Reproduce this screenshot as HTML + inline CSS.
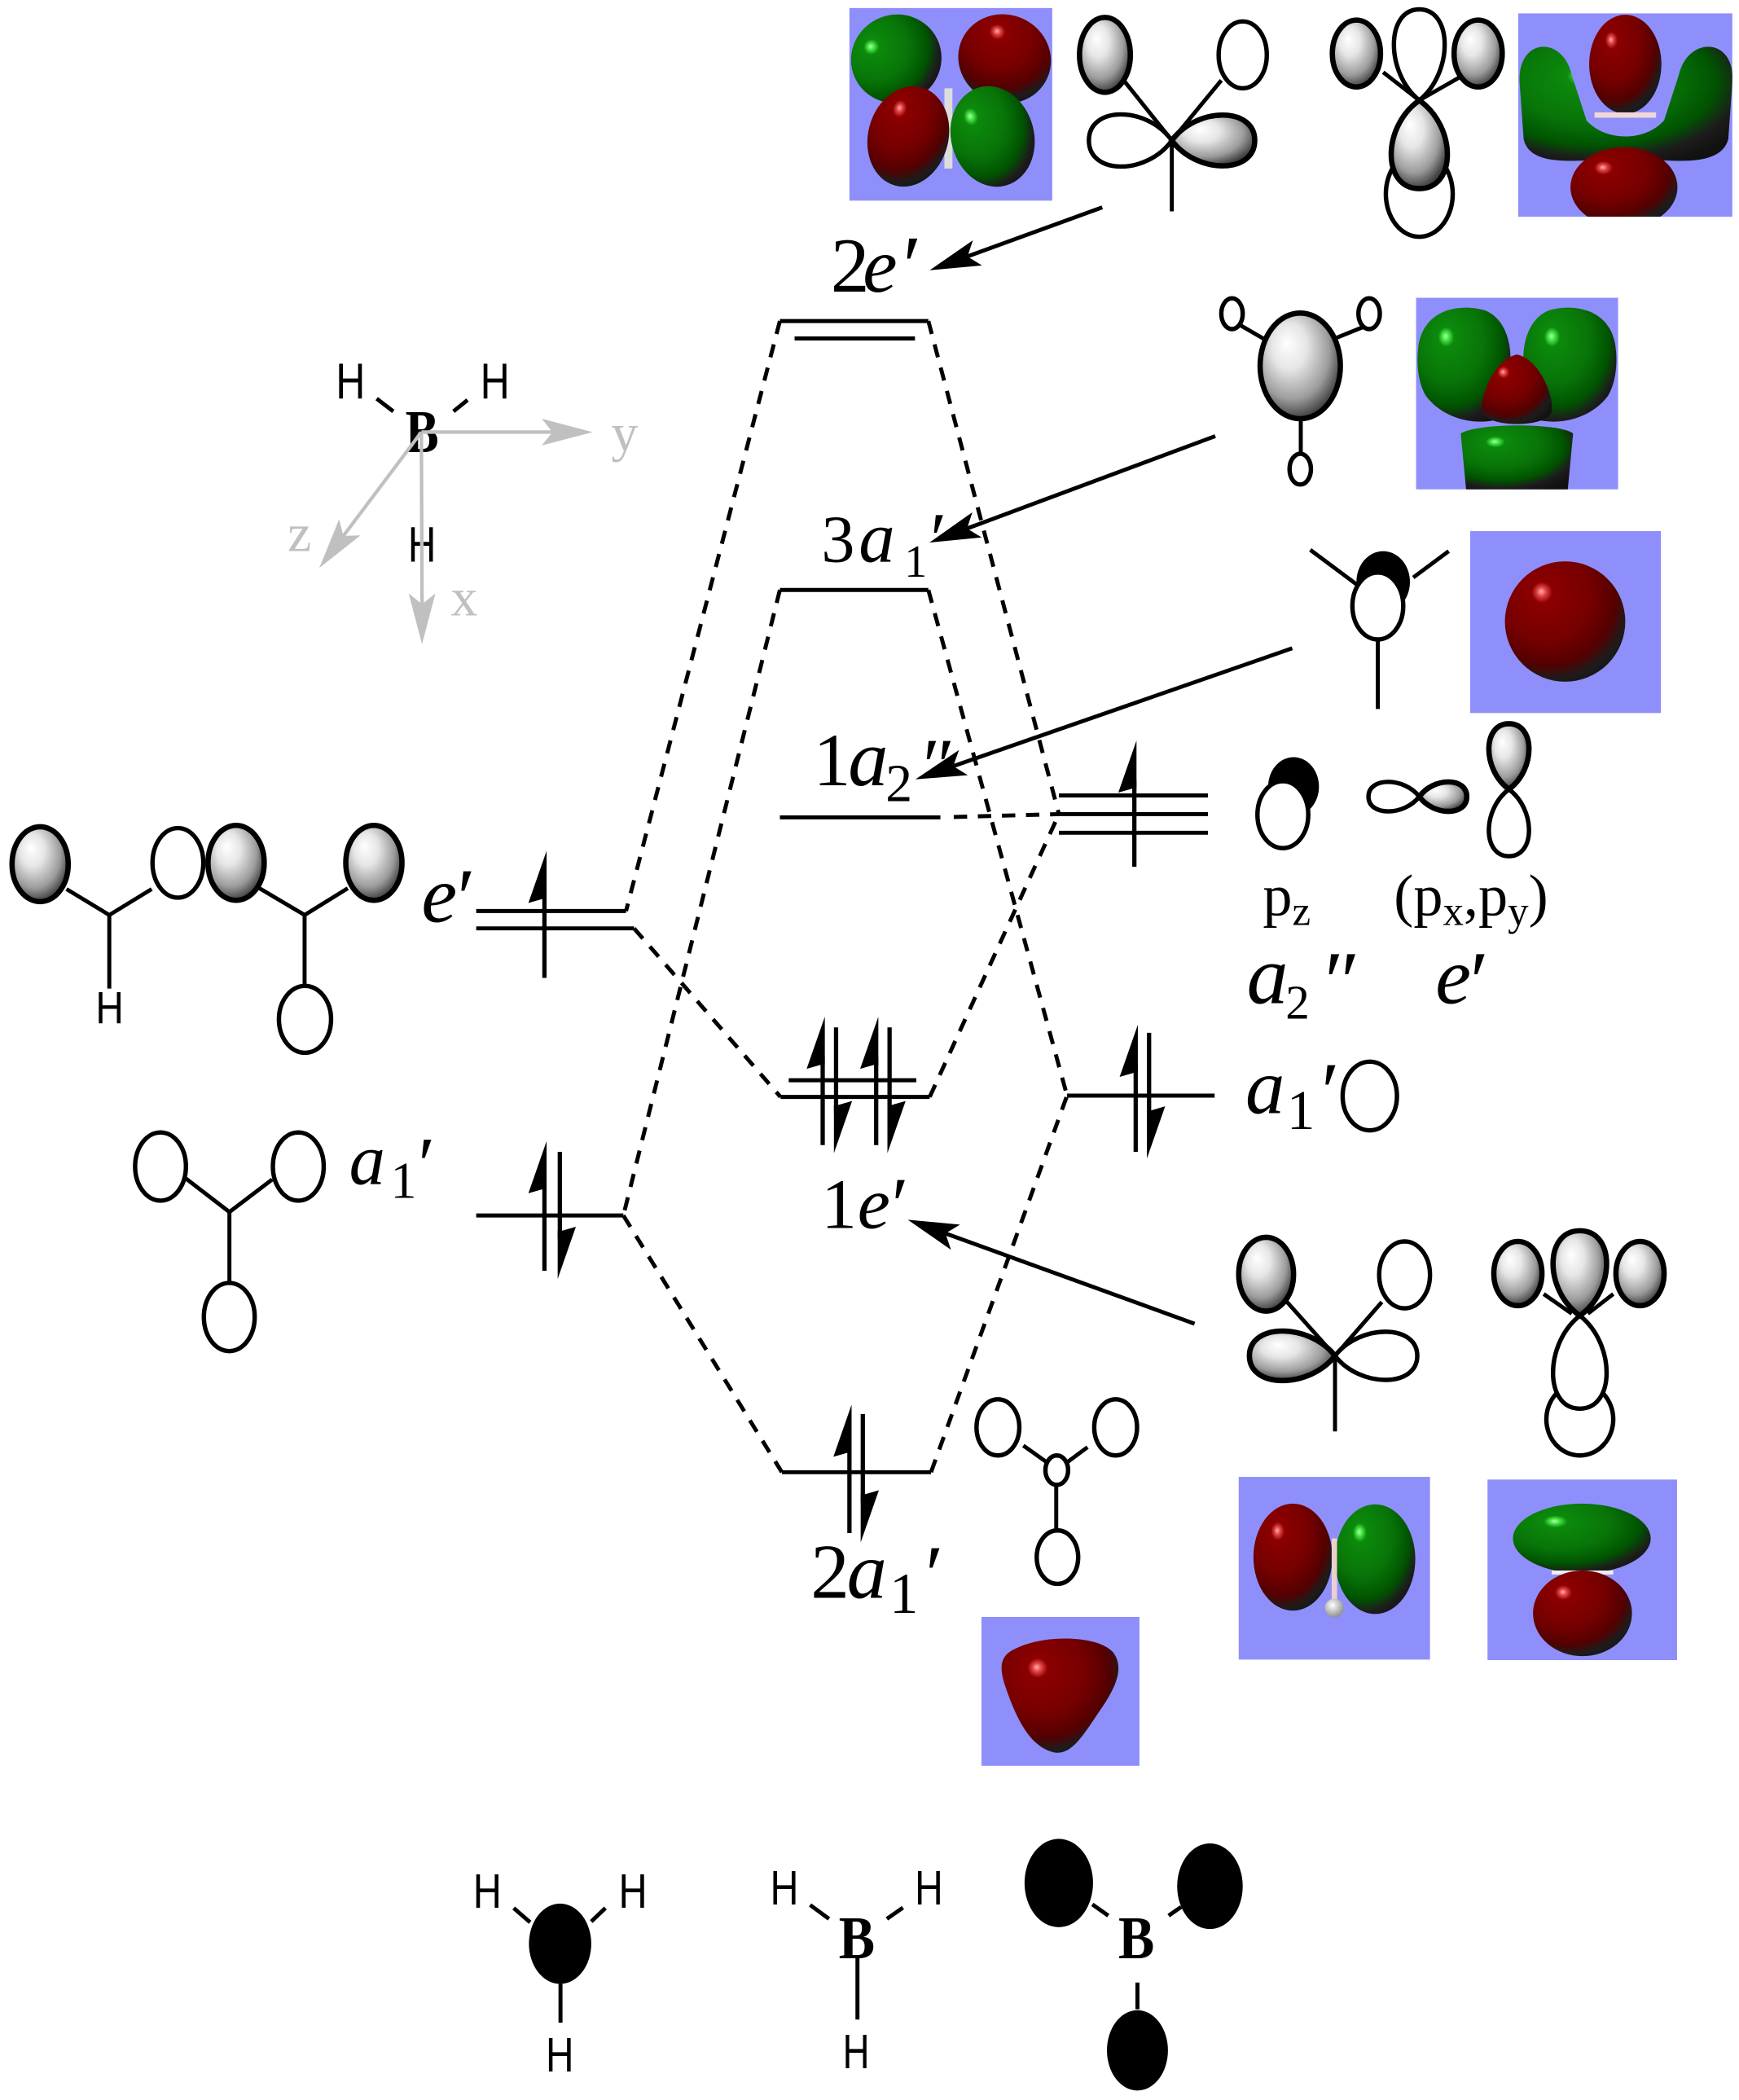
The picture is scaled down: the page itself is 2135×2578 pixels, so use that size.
<!DOCTYPE html>
<html><head><meta charset="utf-8">
<style>
html,body{margin:0;padding:0;background:#fff;}
svg{display:block;}
.lv{stroke:#000;stroke-width:3;fill:none;}
.ds{stroke:#000;stroke-width:3;fill:none;stroke-dasharray:10 8;}
.bd{stroke:#000;stroke-width:3;fill:none;}
.ax{stroke:#c0c0c0;stroke-width:2.6;fill:none;}
.oe{fill:#fff;stroke:#000;stroke-width:3.3;}
.ge{fill:url(#gg);stroke:#000;stroke-width:4;}
text{font-family:"Liberation Serif","DejaVu Serif",serif;}
.sans{font-family:"Liberation Sans","DejaVu Sans",sans-serif;}
.it{font-style:italic;}
</style></head><body>
<svg width="2135" height="2578" viewBox="0 0 1300 1569.8" preserveAspectRatio="none" xmlns="http://www.w3.org/2000/svg">
<defs>
<radialGradient id="gg" cx="0.42" cy="0.38" r="0.62" fx="0.33" fy="0.28">
<stop offset="0" stop-color="#ffffff"/><stop offset="0.35" stop-color="#e6e6e6"/><stop offset="0.75" stop-color="#9c9c9c"/><stop offset="1" stop-color="#404040"/></radialGradient>
<radialGradient id="rg" cx="0.38" cy="0.32" r="0.78" fx="0.3" fy="0.25">
<stop offset="0" stop-color="#ffb0b0"/><stop offset="0.05" stop-color="#e04040"/><stop offset="0.11" stop-color="#8c0000"/><stop offset="0.48" stop-color="#760000"/><stop offset="0.72" stop-color="#540000"/><stop offset="0.86" stop-color="#1c1c1c"/><stop offset="1" stop-color="#111"/></radialGradient>
<radialGradient id="grg" cx="0.38" cy="0.32" r="0.78" fx="0.3" fy="0.25">
<stop offset="0" stop-color="#b0ffb0"/><stop offset="0.05" stop-color="#40e040"/><stop offset="0.11" stop-color="#0c8a0c"/><stop offset="0.48" stop-color="#087408"/><stop offset="0.72" stop-color="#005400"/><stop offset="0.86" stop-color="#1c1c1c"/><stop offset="1" stop-color="#111"/></radialGradient>
<radialGradient id="wg" cx="0.4" cy="0.35" r="0.7">
<stop offset="0" stop-color="#fff"/><stop offset="1" stop-color="#888"/></radialGradient>
<clipPath id="c1"><rect x="635" y="6" width="151.6" height="144"/></clipPath>
<clipPath id="c2"><rect x="1135" y="10" width="160" height="152"/></clipPath>
<clipPath id="c3"><rect x="1058.6" y="222.6" width="151" height="143.2"/></clipPath>
<clipPath id="c7"><rect x="1112" y="1106" width="141.7" height="135"/></clipPath>
</defs>
<rect x="0" y="0" width="1300" height="1569.8" fill="#fff"/>

<!-- ===== MO boxes ===== -->
<rect x="635" y="6" width="151.6" height="144" fill="#8f8ffb"/>
<g clip-path="url(#c1)">
<ellipse cx="670" cy="44" rx="34" ry="33" fill="url(#grg)" transform="rotate(-25 670 44)"/>
<ellipse cx="751" cy="44" rx="35" ry="33" fill="url(#rg)" transform="rotate(25 751 44)"/>
<rect x="706" y="66" width="6" height="60" fill="#ddd"/>
<ellipse cx="679" cy="102" rx="30" ry="38" fill="url(#rg)" transform="rotate(15 679 102)"/>
<ellipse cx="742" cy="102" rx="31" ry="38" fill="url(#grg)" transform="rotate(-15 742 102)"/>
</g>

<rect x="1135" y="10" width="160" height="152" fill="#8f8ffb"/>
<g clip-path="url(#c2)">
<path d="M1136,62 C1134,28 1168,26 1175,56 L1186,90 C1200,106 1230,106 1244,90 L1255,56 C1262,26 1298,28 1295,62 L1292,104 C1286,126 1250,120 1215,118 C1180,120 1144,126 1139,104 Z" fill="url(#grg)"/>
<ellipse cx="1215" cy="48" rx="27" ry="37" fill="url(#rg)"/>
<rect x="1192" y="84" width="46" height="4" fill="#f0d8d8"/>
<ellipse cx="1214" cy="140" rx="40" ry="30" fill="url(#rg)"/>
</g>

<rect x="1058.6" y="222.6" width="151" height="143.2" fill="#8f8ffb"/>
<g clip-path="url(#c3)">
<path d="M1060,262 C1062,232 1090,226 1110,232 C1126,238 1132,260 1128,280 L1118,314 C1100,318 1078,312 1066,296 C1060,286 1059,272 1060,262 Z" fill="url(#grg)"/>
<path d="M1208,262 C1206,232 1178,226 1158,232 C1142,238 1136,260 1140,280 L1150,314 C1168,318 1190,312 1202,296 C1208,286 1209,272 1208,262 Z" fill="url(#grg)"/>
<path d="M1134,265 C1150,268 1162,295 1160,308 C1156,320 1112,320 1108,308 C1106,295 1118,268 1134,265 Z" fill="url(#rg)"/>
<path d="M1092,324 C1105,316 1165,316 1176,324 L1172,366 L1096,366 Z" fill="url(#grg)"/>
</g>

<rect x="1099" y="397" width="142.6" height="136" fill="#8f8ffb"/>
<circle cx="1170" cy="464.6" r="45" fill="url(#rg)"/>

<rect x="733.7" y="1208.7" width="118.1" height="111.3" fill="#8f8ffb"/>
<path d="M760,1232 C780,1222 820,1222 832,1235 C842,1248 832,1265 820,1282 C808,1300 800,1312 788,1310 C770,1306 760,1285 752,1262 C746,1245 748,1237 760,1232 Z" fill="url(#rg)"/>

<rect x="926" y="1104" width="143" height="136.6" fill="#8f8ffb"/>
<ellipse cx="966.5" cy="1164" rx="29.5" ry="40" fill="url(#rg)"/>
<ellipse cx="1028" cy="1165.5" rx="30" ry="41" fill="url(#grg)"/>
<rect x="995.5" y="1150" width="4" height="50" fill="#ecd0d0"/>
<circle cx="997.5" cy="1202" r="7" fill="url(#wg)"/>

<rect x="1112" y="1106" width="141.7" height="135" fill="#8f8ffb"/>
<g clip-path="url(#c7)">
<ellipse cx="1182.5" cy="1150" rx="51.5" ry="26" fill="url(#grg)"/>
<rect x="1160" y="1174" width="46" height="3" fill="#eee"/>
<ellipse cx="1183" cy="1206" rx="37" ry="32" fill="url(#rg)"/>
</g>

<!-- ===== energy levels ===== -->
<line class="lv" x1="583" y1="240" x2="694" y2="240"/>
<line class="lv" x1="594" y1="253" x2="684" y2="253"/>
<line class="lv" x1="583" y1="441" x2="694" y2="441"/>
<line class="lv" x1="583" y1="611" x2="703" y2="611"/>
<line class="lv" x1="356" y1="681" x2="468" y2="681"/>
<line class="lv" x1="356" y1="694" x2="474" y2="694"/>
<line class="lv" x1="356" y1="908.6" x2="466" y2="908.6"/>
<line class="lv" x1="583.5" y1="820" x2="695" y2="820"/>
<line class="lv" x1="589.6" y1="807.5" x2="685" y2="807.5"/>
<line class="lv" x1="791.6" y1="594.6" x2="903" y2="594.6"/>
<line class="lv" x1="791.6" y1="608.6" x2="903" y2="608.6"/>
<line class="lv" x1="791.6" y1="622.5" x2="903" y2="622.5"/>
<line class="lv" x1="797.7" y1="819" x2="908" y2="819"/>
<line class="lv" x1="584.5" y1="1100.5" x2="696" y2="1100.5"/>

<!-- dashed correlation lines -->
<line class="ds" x1="583" y1="240" x2="468" y2="681"/>
<line class="ds" x1="694" y1="240" x2="791.6" y2="608.6"/>
<line class="ds" x1="583" y1="441" x2="466" y2="908.6"/>
<line class="ds" x1="694" y1="441" x2="797.7" y2="819"/>
<line class="ds" x1="474" y1="694" x2="583.5" y2="820"/>
<line class="ds" x1="466" y1="908.6" x2="584.5" y2="1100.5"/>
<line class="ds" x1="695" y1="820" x2="791.6" y2="608.6"/>
<line class="ds" x1="696" y1="1100.5" x2="797.7" y2="819"/>
<line class="ds" x1="713" y1="610.7" x2="791.6" y2="608.6"/>

<!-- electrons -->
<g stroke="#000" stroke-width="3.2" fill="none">
<line x1="407" y1="666" x2="407" y2="731"/>
<line x1="407" y1="883" x2="407" y2="950"/>
<line x1="418.5" y1="861" x2="418.5" y2="926"/>
<line x1="615" y1="790" x2="615" y2="856"/>
<line x1="625" y1="768" x2="625" y2="832"/>
<line x1="655" y1="790" x2="655" y2="856"/>
<line x1="665" y1="768" x2="665" y2="832"/>
<line x1="848" y1="583" x2="848" y2="648"/>
<line x1="849" y1="796" x2="849" y2="861"/>
<line x1="859" y1="772" x2="859" y2="836"/>
<line x1="635" y1="1080" x2="635" y2="1146"/>
<line x1="645" y1="1057" x2="645" y2="1123"/>
</g>
<g fill="#000">
<polygon points="408.6,636 408.6,672 405.4,672 395,675"/>
<polygon points="408.6,853 408.6,889 405.4,889 395,892"/>
<polygon points="416.9,956 416.9,920 420.1,920 430.5,917"/>
<polygon points="616.6,760 616.6,796 613.4,796 603,799"/>
<polygon points="623.4,862 623.4,826 626.6,826 637,823"/>
<polygon points="656.6,760 656.6,796 653.4,796 643,799"/>
<polygon points="663.4,862 663.4,826 666.6,826 677,823"/>
<polygon points="849.6,553.5 849.6,589.5 846.4,589.5 836,592.5"/>
<polygon points="850.6,766 850.6,802 847.4,802 837,805"/>
<polygon points="857.4,866 857.4,830 860.6,830 871,827"/>
<polygon points="636.6,1050 636.6,1086 633.4,1086 623,1089"/>
<polygon points="643.4,1153 643.4,1117 646.6,1117 657,1114"/>
</g>

<!-- ===== big arrows ===== -->
<g stroke="#000" stroke-width="3" fill="none">
<line x1="824" y1="155" x2="723.2" y2="191.7"/>
<line x1="908.5" y1="326" x2="722.9" y2="395.1"/>
<line x1="966" y1="484.6" x2="712.6" y2="572.7"/>
<line x1="893" y1="989.5" x2="706.8" y2="922"/>
</g>
<g fill="#000">
<polygon points="695,202 727.3,179.6 723.2,191.7 734.1,198.4"/>
<polygon points="694.8,405.6 726.9,382.9 722.9,395.1 733.9,401.7"/>
<polygon points="684.3,582.6 716.9,560.7 712.6,572.7 723.5,579.5"/>
<polygon points="678.6,911.8 717.7,915.4 706.8,922 710.9,934.2"/>
</g>

<!-- ===== labels ===== -->
<g fill="#000">
<text x="621" y="218" font-size="58" font-family="Liberation Serif, serif">2</text>
<text x="645" y="218" font-size="58" font-style="italic" font-family="Liberation Serif, serif">e</text>
<text x="671" y="220" font-size="64" font-style="italic" font-family="Liberation Serif, serif">′</text>

<text x="614" y="420" font-size="50" font-family="Liberation Serif, serif">3</text>
<text x="642" y="420" font-size="54" font-style="italic" font-family="Liberation Serif, serif">a</text>
<text x="676" y="431" font-size="34" font-family="Liberation Serif, serif">1</text>
<text x="692" y="422" font-size="56" font-style="italic" font-family="Liberation Serif, serif">′</text>

<text x="608" y="587" font-size="56" font-family="Liberation Serif, serif">1</text>
<text x="634" y="587" font-size="60" font-style="italic" font-family="Liberation Serif, serif">a</text>
<text x="662" y="599" font-size="40" font-family="Liberation Serif, serif">2</text>
<text x="686" y="592" font-size="58" font-style="italic" font-family="Liberation Serif, serif">″</text>

<text x="614" y="918" font-size="53" font-family="Liberation Serif, serif">1</text>
<text x="641" y="918" font-size="55" font-style="italic" font-family="Liberation Serif, serif">e</text>
<text x="663" y="920" font-size="58" font-style="italic" font-family="Liberation Serif, serif">′</text>

<text x="606" y="1194.5" font-size="58" font-family="Liberation Serif, serif">2</text>
<text x="633" y="1194.5" font-size="60" font-style="italic" font-family="Liberation Serif, serif">a</text>
<text x="665" y="1205.6" font-size="43" font-family="Liberation Serif, serif">1</text>
<text x="688" y="1198" font-size="62" font-style="italic" font-family="Liberation Serif, serif">′</text>

<text x="315" y="689" font-size="60" font-style="italic" font-family="Liberation Serif, serif">e</text>
<text x="338" y="692" font-size="62" font-style="italic" font-family="Liberation Serif, serif">′</text>

<text x="261" y="885" font-size="54" font-style="italic" font-family="Liberation Serif, serif">a</text>
<text x="292" y="895.5" font-size="39" font-family="Liberation Serif, serif">1</text>
<text x="309" y="890" font-size="58" font-style="italic" font-family="Liberation Serif, serif">′</text>

<text x="931" y="832" font-size="59" font-style="italic" font-family="Liberation Serif, serif">a</text>
<text x="962" y="844" font-size="42" font-family="Liberation Serif, serif">1</text>
<text x="984" y="837" font-size="62" font-style="italic" font-family="Liberation Serif, serif">′</text>

<text x="932" y="750" font-size="62" font-style="italic" font-family="Liberation Serif, serif">a</text>
<text x="961" y="761.5" font-size="36" font-family="Liberation Serif, serif">2</text>
<text x="986" y="755" font-size="64" font-style="italic" font-family="Liberation Serif, serif">″</text>

<text x="1073" y="750" font-size="60" font-style="italic" font-family="Liberation Serif, serif">e</text>
<text x="1095" y="755" font-size="64" font-style="italic" font-family="Liberation Serif, serif">′</text>

<text x="944" y="684" font-size="44" font-family="Liberation Serif, serif">p<tspan font-size="31" dy="7.5">z</tspan></text>
<text x="1042" y="684" font-size="44" font-family="Liberation Serif, serif">(p<tspan font-size="31" dy="7.5">x</tspan><tspan dy="-7.5">,p</tspan><tspan font-size="31" dy="7.5">y</tspan><tspan dy="-7.5">)</tspan></text>
</g>

<!-- ===== schematic orbitals ===== -->
<g>
<line class="bd" x1="840" y1="60" x2="876" y2="105"/>
<line class="bd" x1="913" y1="60" x2="876" y2="105"/>
<line class="bd" x1="876" y1="105" x2="876" y2="158"/>
<ellipse class="ge" cx="826" cy="41" rx="19" ry="28"/>
<ellipse class="oe" cx="929" cy="41" rx="18" ry="25"/>
<path class="oe" d="M876,105 C857.4,131 814,131 814,105 C814,79 857.4,79 876,105 Z"/>
<path class="ge" d="M876,105 C894.6,130.3 938,130.3 938,105 C938,79.7 894.6,79.7 876,105 Z"/>
</g>
<g>
<line class="bd" x1="1034" y1="54" x2="1061" y2="75"/>
<line class="bd" x1="1096" y1="55" x2="1061" y2="75"/>
<ellipse class="ge" cx="1014" cy="40" rx="18" ry="25"/>
<ellipse class="ge" cx="1105" cy="40" rx="18" ry="25"/>
<ellipse class="oe" cx="1061" cy="145" rx="25" ry="32"/>
<path class="oe" d="M1061,75 C1086.3,54.6 1086.3,7 1061,7 C1035.7,7 1035.7,54.6 1061,75 Z"/>
<path class="ge" d="M1061,75 C1089,94.8 1089,141 1061,141 C1033,141 1033,94.8 1061,75 Z"/>
</g>
<g>
<line class="bd" x1="927" y1="243" x2="946" y2="254"/>
<line class="bd" x1="1022.7" y1="243" x2="998.6" y2="252.7"/>
<line class="bd" x1="972.4" y1="313" x2="972.4" y2="339"/>
<ellipse class="ge" cx="972" cy="273.5" rx="30" ry="39.5"/>
<ellipse class="oe" cx="921" cy="234.5" rx="8" ry="11.5" stroke-width="3"/>
<ellipse class="oe" cx="1023.5" cy="234.5" rx="8" ry="11.5" stroke-width="3"/>
<ellipse class="oe" cx="972" cy="350.7" rx="8" ry="11.5" stroke-width="3"/>
</g>
<g>
<line class="bd" x1="979.5" y1="411" x2="1015" y2="437.5"/>
<line class="bd" x1="1083" y1="412" x2="1056.5" y2="431.7"/>
<ellipse cx="1034" cy="435" rx="20" ry="23" fill="#000"/>
<ellipse class="oe" cx="1030" cy="453" rx="19" ry="25"/>
<line class="bd" x1="1030" y1="478" x2="1030" y2="530"/>
</g>
<g>
<ellipse cx="967" cy="588" rx="19" ry="22" fill="#000"/>
<ellipse class="oe" cx="959" cy="609" rx="19" ry="25"/>
<path class="oe" d="M1061,595.5 C1049.6,610.2 1023,610.2 1023,595.5 C1023,580.8 1049.6,580.8 1061,595.5 Z"/>
<path class="ge" d="M1061,595.5 C1071.7,610.2 1096.5,610.2 1096.5,595.5 C1096.5,580.8 1071.7,580.8 1061,595.5 Z"/>
<path class="ge" d="M1128,590 C1148,575.3 1148,541 1128,541 C1108,541 1108,575.3 1128,590 Z"/>
<path class="oe" d="M1128,590 C1148,605 1148,640 1128,640 C1108,640 1108,605 1128,590 Z"/>
</g>
<ellipse class="oe" cx="1024" cy="819.3" rx="20.3" ry="25.7"/>

<g>
<line class="bd" x1="961" y1="972" x2="998" y2="1013.5"/>
<line class="bd" x1="1033" y1="973.3" x2="998" y2="1013.5"/>
<line class="bd" x1="998" y1="1013.5" x2="998" y2="1070"/>
<ellipse class="ge" cx="946.5" cy="952.5" rx="20.5" ry="27.6"/>
<ellipse class="oe" cx="1050" cy="953" rx="19" ry="25"/>
<path class="ge" d="M998,1013.5 C978.8,1038.2 934,1038.2 934,1013.5 C934,988.8 978.8,988.8 998,1013.5 Z"/>
<path class="oe" d="M998,1013.5 C1016.5,1037.5 1059.5,1037.5 1059.5,1013.5 C1059.5,989.5 1016.5,989.5 998,1013.5 Z"/>
</g>
<g>
<line class="bd" x1="1154" y1="967.3" x2="1175" y2="982"/>
<line class="bd" x1="1206" y1="967.3" x2="1187" y2="982"/>
<ellipse class="ge" cx="1134.7" cy="952" rx="18" ry="24"/>
<ellipse class="ge" cx="1226" cy="952" rx="18" ry="24"/>
<ellipse class="oe" cx="1181" cy="1061" rx="25" ry="27"/>
<path class="oe" d="M1181,983.5 C1207.7,1004.4 1207.7,1053 1181,1053 C1154.3,1053 1154.3,1004.4 1181,983.5 Z"/>
<path class="ge" d="M1181,983.5 C1207.7,964.5 1207.7,920 1181,920 C1154.3,920 1154.3,964.5 1181,983.5 Z"/>
</g>
<g>
<line class="bd" x1="765" y1="1080.6" x2="782" y2="1092.7"/>
<line class="bd" x1="813" y1="1081.8" x2="798.3" y2="1092.7"/>
<line class="bd" x1="789.6" y1="1110" x2="789.6" y2="1144"/>
<ellipse class="oe" cx="746" cy="1067" rx="16" ry="21" stroke-width="3"/>
<ellipse class="oe" cx="834" cy="1067" rx="16" ry="21" stroke-width="3"/>
<ellipse class="oe" cx="790" cy="1099" rx="8.5" ry="11" stroke-width="3"/>
<ellipse class="oe" cx="790.5" cy="1164" rx="15.5" ry="20" stroke-width="3"/>
</g>

<!-- left SALCs -->
<g>
<line class="bd" x1="49.7" y1="664.6" x2="81.7" y2="684"/>
<line class="bd" x1="113.4" y1="664.6" x2="81.7" y2="684"/>
<line class="bd" x1="81.7" y1="684" x2="81.7" y2="739"/>
<ellipse class="ge" cx="30" cy="646" rx="21" ry="28"/>
<ellipse class="oe" cx="133" cy="645" rx="19" ry="26"/>
<text x="71.5" y="765" font-size="34" class="sans" textLength="21" lengthAdjust="spacingAndGlyphs">H</text>

<line class="bd" x1="194" y1="664" x2="227.7" y2="684"/>
<line class="bd" x1="260" y1="664" x2="227.7" y2="684"/>
<line class="bd" x1="227.7" y1="684" x2="227.7" y2="737"/>
<ellipse class="ge" cx="176.5" cy="645" rx="21" ry="28"/>
<ellipse class="ge" cx="279.5" cy="645" rx="21" ry="28"/>
<ellipse class="oe" cx="228" cy="762" rx="19.5" ry="25"/>

<line class="bd" x1="139" y1="881" x2="171.5" y2="906"/>
<line class="bd" x1="203.5" y1="881.7" x2="171.5" y2="906"/>
<line class="bd" x1="171.5" y1="906" x2="171.5" y2="959"/>
<ellipse class="oe" cx="120" cy="872" rx="19" ry="25.5"/>
<ellipse class="oe" cx="223" cy="872" rx="19" ry="25.5"/>
<ellipse class="oe" cx="171.4" cy="984.5" rx="19" ry="25.5"/>
</g>

<!-- ===== BH3 with axes ===== -->
<g>
<text x="251" y="298" font-size="38" class="sans" textLength="22" lengthAdjust="spacingAndGlyphs">H</text>
<text x="359" y="298" font-size="38" class="sans" textLength="22" lengthAdjust="spacingAndGlyphs">H</text>
<text x="305" y="420" font-size="37" class="sans" textLength="21" lengthAdjust="spacingAndGlyphs">H</text>
<line class="bd" x1="281.6" y1="298" x2="294" y2="307.5"/>
<line class="bd" x1="349.5" y1="299" x2="339" y2="307.5"/>
<text x="303" y="338" font-size="45" font-weight="bold" textLength="25" lengthAdjust="spacingAndGlyphs">B</text>
<line class="ax" x1="315" y1="323" x2="413" y2="323"/>
<line class="ax" x1="315" y1="323" x2="315.5" y2="451.6"/>
<line class="ax" x1="315" y1="323" x2="256.7" y2="400.6"/>
<g fill="#c0c0c0">
<polygon points="443,323 405,313 413,323 405,333"/>
<polygon points="315.5,481.6 305.5,443.6 315.5,451.6 325.5,443.6"/>
<polygon points="238.7,424.6 253.5,388.2 256.7,400.6 269.5,400.2"/>
<text x="457" y="337" font-size="40">y</text>
<text x="337" y="460" font-size="40">x</text>
<text x="215" y="412" font-size="40">z</text>
</g>
</g>

<!-- ===== bottom fragments ===== -->
<g>
<text x="353.6" y="1426" font-size="36" class="sans" textLength="21.4" lengthAdjust="spacingAndGlyphs">H</text>
<text x="462.5" y="1426" font-size="36" class="sans" textLength="21.4" lengthAdjust="spacingAndGlyphs">H</text>
<text x="408" y="1548.6" font-size="36" class="sans" textLength="21" lengthAdjust="spacingAndGlyphs">H</text>
<line class="bd" x1="384" y1="1426.3" x2="396.3" y2="1437"/>
<line class="bd" x1="452.6" y1="1426.3" x2="442" y2="1436.4"/>
<line class="bd" x1="419" y1="1483" x2="419" y2="1512"/>
<ellipse cx="418.7" cy="1453" rx="23.3" ry="30" fill="#000"/>

<text x="575.7" y="1423.6" font-size="36" class="sans" textLength="21.3" lengthAdjust="spacingAndGlyphs">H</text>
<text x="683.8" y="1423.6" font-size="36" class="sans" textLength="21.2" lengthAdjust="spacingAndGlyphs">H</text>
<text x="630" y="1546" font-size="36" class="sans" textLength="20" lengthAdjust="spacingAndGlyphs">H</text>
<text x="627" y="1464" font-size="45" font-weight="bold" textLength="27" lengthAdjust="spacingAndGlyphs">B</text>
<line class="bd" x1="605.6" y1="1424" x2="619.7" y2="1434.4"/>
<line class="bd" x1="675" y1="1426" x2="663" y2="1434.4"/>
<line class="bd" x1="641" y1="1462" x2="641" y2="1509.7"/>

<ellipse cx="791.5" cy="1407.6" rx="25.6" ry="33" fill="#000"/>
<ellipse cx="904.5" cy="1410" rx="24.5" ry="32" fill="#000"/>
<ellipse cx="850.3" cy="1532.7" rx="22.8" ry="30" fill="#000"/>
<text x="836" y="1464" font-size="45" font-weight="bold" textLength="27" lengthAdjust="spacingAndGlyphs">B</text>
<line class="bd" x1="816.6" y1="1423.6" x2="828.5" y2="1432"/>
<line class="bd" x1="883" y1="1425.5" x2="873.6" y2="1432"/>
<line class="bd" x1="850.3" y1="1482" x2="850.3" y2="1502"/>
</g>
</svg>
</body></html>
